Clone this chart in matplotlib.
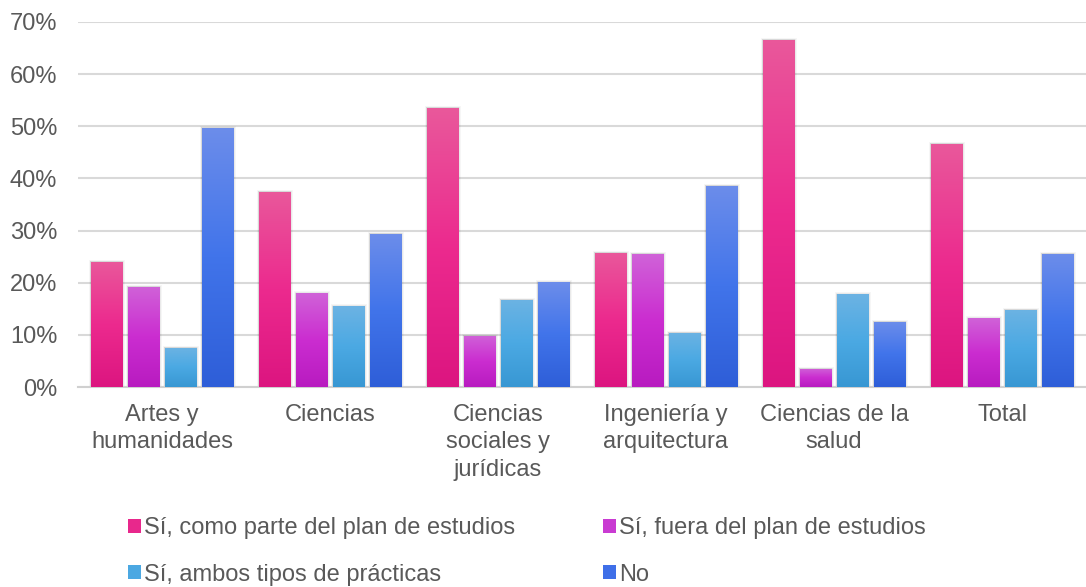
import numpy as np
import matplotlib
matplotlib.use("Agg")
import matplotlib.pyplot as plt
from matplotlib.colors import LinearSegmentedColormap
from matplotlib.patches import Patch

plt.rcParams['font.family'] = ['Liberation Sans', 'DejaVu Sans']

categories = ["Artes y\nhumanidades", "Ciencias", "Ciencias\nsociales y\njurídicas",
              "Ingeniería y\narquitectura", "Ciencias de la\nsalud", "Total"]
series_names = ["Sí, como parte del plan de estudios", "Sí, fuera del plan de estudios",
                "Sí, ambos tipos de prácticas", "No"]
como_parte = [24.0, 37.4, 53.5, 25.7, 66.6, 46.6]
fuera = [19.2, 18.0, 9.8, 25.5, 3.5, 13.2]
ambos = [7.5, 15.5, 16.7, 10.4, 17.8, 14.8]
no = [49.7, 29.4, 20.1, 38.6, 12.5, 25.5]
series = [como_parte, fuera, ambos, no]
yticks = [0, 10, 20, 30, 40, 50, 60, 70]

grads = [
    ["#E9589B", "#EC2A8E", "#DC1580"],
    ["#D062D8", "#CB2DD0", "#B81BC0"],
    ["#6CB3E3", "#4BA9E3", "#3897D3"],
    ["#6C8DEB", "#4174EA", "#2E5ED8"],
]
solid = ["#E8288C", "#C93BD2", "#4BA8E2", "#3F6FE8"]

FS = 17
W, H = 1086, 587
fig = plt.figure(figsize=(W / 100, H / 100), dpi=100)
ax = fig.add_axes([78 / W, 1 - 387 / H, (1086 - 78) / W, (387 - 22) / H])

x = np.arange(len(categories))
step = 0.22
bw = 0.185
offsets = (np.arange(4) - 1.5) * step

for i, vals in enumerate(series):
    cmap = LinearSegmentedColormap.from_list("g%d" % i, grads[i][::-1])
    bars = ax.bar(x + offsets[i], vals, width=bw, color='none', edgecolor='none', zorder=3)
    for b in bars:
        x0, y0 = b.get_x(), b.get_y()
        w, h = b.get_width(), b.get_height()
        # soft shadow
        for k, a in zip([0.016, 0.010, 0.005], [0.035, 0.05, 0.07]):
            ax.add_patch(plt.Rectangle((x0 - k * 0.8, y0), w + k * 2.0, h + k * 22,
                                       facecolor='black', alpha=a, edgecolor='none', zorder=2.5))
        grad = np.linspace(0, 1, 256).reshape(-1, 1)
        im = ax.imshow(grad, cmap=cmap, extent=[x0, x0 + w, y0, y0 + h], origin='lower',
                       aspect='auto', zorder=3.2, interpolation='bilinear')
        im.set_clip_path(b)

ax.set_xlim(-0.5, len(categories) - 0.5)
ax.set_ylim(0, 70)
ax.set_yticks(yticks)
ax.set_yticklabels([f"{t}%" for t in yticks])
ax.set_xticks(x)
ax.set_xticklabels(categories, linespacing=1.33)
ax.grid(axis='y', color='#D9D9D9', linewidth=1.5, zorder=0)
ax.set_axisbelow(True)
for s in ['top', 'right', 'left']:
    ax.spines[s].set_visible(False)
ax.spines['bottom'].set_color('#D0D0D0')
ax.spines['bottom'].set_linewidth(1.5)
ax.tick_params(axis='both', length=0, labelsize=FS, colors='#595959')
ax.tick_params(axis='x', pad=12)
ax.tick_params(axis='y', pad=15)

handles = [Patch(facecolor=solid[i], edgecolor='none', label=series_names[i]) for i in range(4)]
order = [0, 2, 1, 3]
leg = fig.legend([handles[i] for i in order], [series_names[i] for i in order],
                 ncol=2, loc='center left', bbox_to_anchor=(128 / W, 1 - 551.5 / H),
                 frameon=False, fontsize=FS, labelcolor='#595959',
                 borderpad=0, borderaxespad=0,
                 handlelength=0.55, handleheight=0.55, handletextpad=0.12,
                 labelspacing=1.02, columnspacing=3.75)

fig.savefig("out.png", dpi=100)
